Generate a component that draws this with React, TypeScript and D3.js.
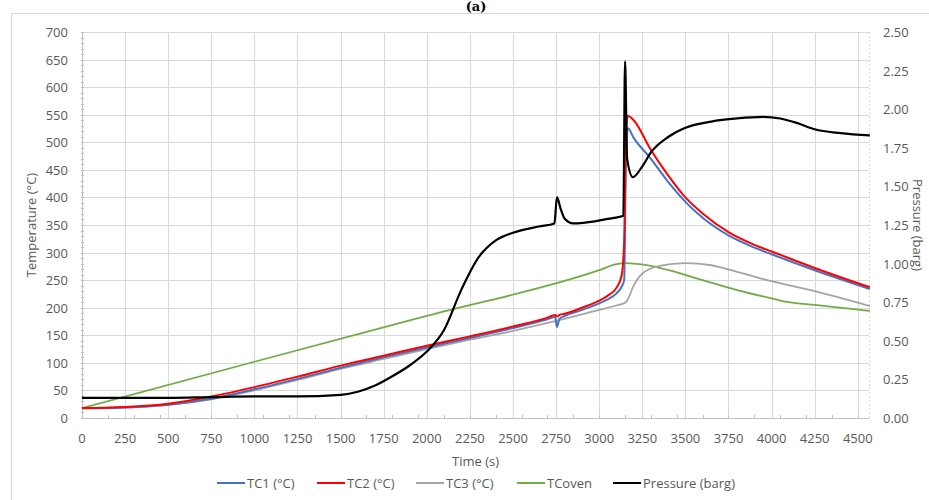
import * as d3 from "d3";
import { useEffect, useRef } from "react";

// time axis (s) shared by TC1 / TC2
const tcTime = [0, 250, 500, 750, 1000, 1250, 1500, 1750, 2000, 2250, 2500, 2700, 2745, 2755, 2770, 2800, 2900, 3000, 3050, 3100, 3130, 3145, 3155, 3165, 3200, 3300, 3400, 3500, 3600, 3750, 3900, 4000, 4250, 4570];
const tc1 = [18, 19, 24, 35, 52, 71, 91, 110, 128, 145, 163, 179, 183, 165, 180, 185, 196, 208, 215, 226, 238, 250, 470, 526, 508, 470, 428, 392, 363, 331, 309, 297, 268, 234];
const tc2 = [18, 20, 26, 39, 56, 75, 95, 113, 131, 148, 166, 182, 187, 184, 187, 189, 200, 213, 222, 236, 258, 320, 500, 548, 540, 486, 440, 400, 371, 337, 314, 302, 272, 237];

const tc3Time = [0, 250, 500, 750, 1000, 1250, 1500, 1750, 2000, 2250, 2500, 2750, 3000, 3100, 3150, 3160, 3200, 3250, 3350, 3500, 3650, 3800, 4000, 4250, 4570];
const tc3 = [17, 19, 24, 34, 50, 69, 89, 107, 125, 142, 158, 176, 196, 204, 209, 212, 240, 262, 276, 281, 277, 265, 248, 230, 203];

const ovenTime = [0, 1000, 2000, 3000, 3100, 3150, 3300, 3450, 3600, 3800, 4000, 4100, 4250, 4570];
const oven = [18, 102, 185, 268, 279, 281, 276, 264, 250, 232, 217, 210, 205, 194];

const pTime = [0, 250, 500, 750, 1000, 1250, 1500, 1600, 1700, 1800, 1900, 2000, 2100, 2200, 2300, 2400, 2500, 2650, 2740, 2755, 2775, 2800, 2850, 2950, 3050, 3140, 3150, 3162, 3195, 3250, 3300, 3400, 3500, 3650, 3800, 3950, 4050, 4150, 4250, 4400, 4570];
const pressure = [0.13, 0.13, 0.13, 0.135, 0.14, 0.14, 0.15, 0.17, 0.21, 0.27, 0.34, 0.43, 0.57, 0.83, 1.04, 1.15, 1.2, 1.24, 1.26, 1.43, 1.36, 1.29, 1.26, 1.27, 1.29, 1.31, 2.31, 1.68, 1.56, 1.63, 1.72, 1.82, 1.88, 1.92, 1.94, 1.95, 1.94, 1.91, 1.87, 1.845, 1.83];

const xTicks = d3.range(0, 4501, 250);
const tempTicks = d3.range(0, 701, 50);
const pTicks = [0, 0.25, 0.5, 0.75, 1.0, 1.25, 1.5, 1.75, 2.0, 2.25, 2.5];

const legendItems = [
  { label: "TC1 (°C)", color: "#4472c4" },
  { label: "TC2 (°C)", color: "#ff0000" },
  { label: "TC3 (°C)", color: "#a5a5a5" },
  { label: "TCoven", color: "#70ad47" },
  { label: "Pressure (barg)", color: "#000000" },
];

const W = 929;
const H = 500;
const FONT = "'Open Sans', sans-serif";

export default function App() {
  const svgRef = useRef<SVGSVGElement | null>(null);

  useEffect(() => {
    const svg = d3.select(svgRef.current);
    svg.selectAll("*").remove();

    const plot = { left: 82, right: 869, top: 32, bottom: 418 };

    const x = d3.scaleLinear().domain([0, 4565]).range([plot.left, plot.right]);
    const yT = d3.scaleLinear().domain([0, 700]).range([plot.bottom, plot.top]);
    const yP = d3.scaleLinear().domain([0, 2.5]).range([plot.bottom, plot.top]);

    svg.append("rect").attr("width", W).attr("height", H).attr("fill", "#fff");

    // chart frame
    svg
      .append("rect")
      .attr("x", 11.5)
      .attr("y", 13.5)
      .attr("width", W)
      .attr("height", H)
      .attr("fill", "none")
      .attr("stroke", "#d9d9d9");

    // title
    svg
      .append("text")
      .attr("x", 476)
      .attr("y", 11)
      .attr("text-anchor", "middle")
      .attr("font-family", "'DejaVu Serif', serif")
      .attr("font-weight", "bold")
      .attr("font-size", 13)
      .text("(a)");

    // gridlines
    const grid = svg.append("g").attr("stroke", "#d9d9d9").attr("stroke-width", 1);
    tempTicks.forEach((t) => {
      grid
        .append("line")
        .attr("x1", plot.left)
        .attr("x2", plot.right)
        .attr("y1", Math.round(yT(t)) + 0.5)
        .attr("y2", Math.round(yT(t)) + 0.5);
    });
    xTicks.forEach((t) => {
      grid
        .append("line")
        .attr("x1", Math.round(x(t)) + 0.5)
        .attr("x2", Math.round(x(t)) + 0.5)
        .attr("y1", plot.top)
        .attr("y2", plot.bottom);
    });
    grid
      .append("line")
      .attr("x1", plot.right + 0.5)
      .attr("x2", plot.right + 0.5)
      .attr("y1", plot.top)
      .attr("y2", plot.bottom)
      .attr("stroke-dasharray", "2,2");

    // axis lines + minor ticks
    const axes = svg.append("g").attr("stroke", "#bfbfbf");
    axes
      .append("line")
      .attr("x1", plot.left)
      .attr("x2", plot.right)
      .attr("y1", plot.bottom + 0.5)
      .attr("y2", plot.bottom + 0.5);
    axes
      .append("line")
      .attr("x1", plot.left + 0.5)
      .attr("x2", plot.left + 0.5)
      .attr("y1", plot.top)
      .attr("y2", plot.bottom);
    d3.range(0, 701, 10).forEach((t) => {
      axes
        .append("line")
        .attr("x1", plot.left - 1)
        .attr("x2", plot.left + 2)
        .attr("y1", Math.round(yT(t)) + 0.5)
        .attr("y2", Math.round(yT(t)) + 0.5);
    });
    d3.range(0, 4566, 150).forEach((t) => {
      axes
        .append("line")
        .attr("x1", Math.round(x(t)) + 0.5)
        .attr("x2", Math.round(x(t)) + 0.5)
        .attr("y1", plot.bottom - 3)
        .attr("y2", plot.bottom);
    });

    const labelColor = "#595959";
    const fs = 13;

    // tick labels
    svg
      .append("g")
      .selectAll("text")
      .data(xTicks)
      .join("text")
      .attr("x", (d) => x(d))
      .attr("y", 443)
      .attr("text-anchor", "middle")
      .attr("font-family", FONT)
      .attr("font-size", fs)
      .attr("fill", labelColor)
      .text((d) => d);

    svg
      .append("g")
      .selectAll("text")
      .data(tempTicks)
      .join("text")
      .attr("x", 68)
      .attr("y", (d) => yT(d) + 5)
      .attr("text-anchor", "end")
      .attr("font-family", FONT)
      .attr("font-size", fs)
      .attr("fill", labelColor)
      .text((d) => d);

    svg
      .append("g")
      .selectAll("text")
      .data(pTicks)
      .join("text")
      .attr("x", 883)
      .attr("y", (d) => yP(d) + 5)
      .attr("text-anchor", "start")
      .attr("font-family", FONT)
      .attr("font-size", fs)
      .attr("fill", labelColor)
      .text((d) => d3.format(".2f")(d));

    // axis titles
    svg
      .append("text")
      .attr("transform", "translate(36,225) rotate(-90)")
      .attr("text-anchor", "middle")
      .attr("font-family", FONT)
      .attr("font-size", fs)
      .attr("fill", labelColor)
      .text("Temperature (°C)");

    svg
      .append("text")
      .attr("transform", "translate(913,225) rotate(90)")
      .attr("text-anchor", "middle")
      .attr("font-family", FONT)
      .attr("font-size", fs)
      .attr("fill", labelColor)
      .text("Pressure (barg)");

    svg
      .append("text")
      .attr("x", (plot.left + plot.right) / 2)
      .attr("y", 466)
      .attr("text-anchor", "middle")
      .attr("font-family", FONT)
      .attr("font-size", fs)
      .attr("fill", labelColor)
      .text("Time (s)");

    // series
    const lineT = (ts: number[]) =>
      d3
        .line<number>()
        .x((_, i) => x(ts[i]))
        .y((d) => yT(d))
        .curve(d3.curveMonotoneX);

    const lineP = d3
      .line<number>()
      .x((_, i) => x(pTime[i]))
      .y((d) => yP(d))
      .curve(d3.curveMonotoneX);

    const series = [
      { data: oven, path: lineT(ovenTime), color: "#70ad47", w: 1.8 },
      { data: tc3, path: lineT(tc3Time), color: "#a5a5a5", w: 1.8 },
      { data: tc1, path: lineT(tcTime), color: "#4472c4", w: 2 },
      { data: tc2, path: lineT(tcTime), color: "#ff0000", w: 2 },
    ];
    series.forEach((s) => {
      svg
        .append("path")
        .datum(s.data)
        .attr("fill", "none")
        .attr("stroke", s.color)
        .attr("stroke-width", s.w)
        .attr("d", s.path);
    });
    svg
      .append("path")
      .datum(pressure)
      .attr("fill", "none")
      .attr("stroke", "#000")
      .attr("stroke-width", 2.2)
      .attr("d", lineP);

    // legend
    const lx = [217, 317, 416, 517, 613];
    const lg = svg.append("g");
    legendItems.forEach((item, i) => {
      lg.append("line")
        .attr("x1", lx[i])
        .attr("x2", lx[i] + 28)
        .attr("y1", 483)
        .attr("y2", 483)
        .attr("stroke", item.color)
        .attr("stroke-width", 2);
      lg.append("text")
        .attr("x", lx[i] + 30)
        .attr("y", 487.5)
        .attr("font-family", FONT)
        .attr("font-size", fs)
        .attr("fill", labelColor)
        .text(item.label);
    });
  }, []);

  return (
    <svg
      ref={svgRef}
      width={W}
      height={H}
      style={{ position: "absolute", left: 0, top: 0, display: "block" }}
    ></svg>
  );
}
